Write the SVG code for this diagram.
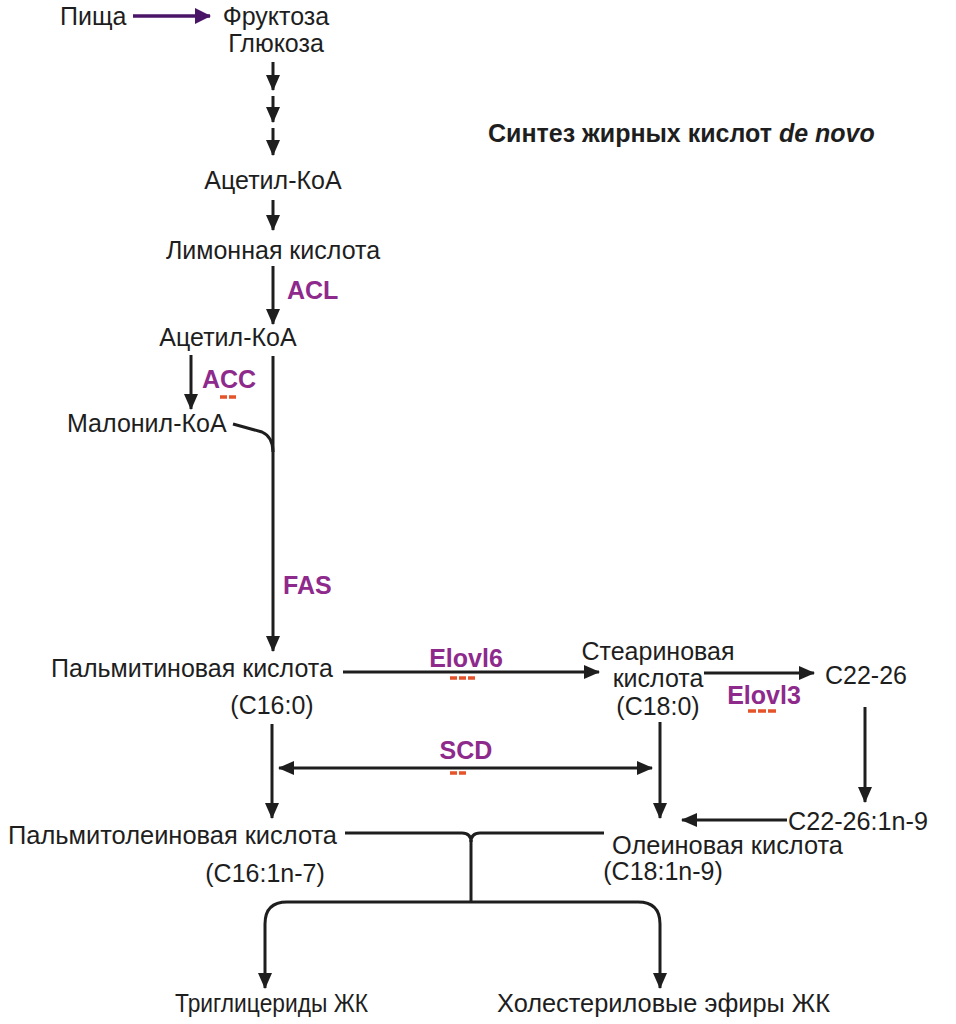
<svg xmlns="http://www.w3.org/2000/svg" width="956" height="1024" viewBox="0 0 956 1024">
<style>
text{font-family:"Liberation Sans",Arial,sans-serif;font-size:25px;fill:#1e1e1e}
.c{text-anchor:middle}
.enz{font-weight:bold;fill:#8e2a8c;font-size:25px}
.title{font-weight:bold;font-size:25px}
.ln{fill:none;stroke:#1e1e1e;stroke-width:3}
.dash{stroke:#e5532b;stroke-width:3.5;fill:none}
</style>
<defs>
<marker id="ah" viewBox="0 0 16 14" refX="15" refY="7" markerWidth="16" markerHeight="14" markerUnits="userSpaceOnUse" orient="auto-start-reverse">
<path d="M0,0 L16,7 L0,14 Z" fill="#1e1e1e"/>
</marker>
<marker id="ahp" viewBox="0 0 16 16" refX="15" refY="8" markerWidth="16" markerHeight="16" markerUnits="userSpaceOnUse" orient="auto">
<path d="M0,0 L16,8 L0,16 Z" fill="#4a1467"/>
</marker>
</defs>
<rect width="956" height="1024" fill="#fff"/>

<g id="connectors">
<line x1="133" y1="16" x2="210" y2="16" stroke="#4a1467" stroke-width="3.5" marker-end="url(#ahp)"/>
<line class="ln" x1="273" y1="62" x2="273" y2="90" marker-end="url(#ah)"/>
<line class="ln" x1="273" y1="96" x2="273" y2="122" marker-end="url(#ah)"/>
<line class="ln" x1="273" y1="128" x2="273" y2="155" marker-end="url(#ah)"/>
<line class="ln" x1="273" y1="200" x2="273" y2="230" marker-end="url(#ah)"/>
<line class="ln" x1="273" y1="266" x2="273" y2="324" marker-end="url(#ah)"/>
<line class="ln" x1="191" y1="355" x2="191" y2="409" marker-end="url(#ah)"/>
<line class="ln" x1="273" y1="356" x2="273" y2="651" marker-end="url(#ah)"/>
<path class="ln" d="M233,424 L262,432 Q273,437 273,452"/>
<line class="ln" x1="343" y1="672" x2="599" y2="672" marker-end="url(#ah)"/>
<line class="ln" x1="704" y1="673" x2="814" y2="673" marker-end="url(#ah)"/>
<line class="ln" x1="865" y1="707" x2="865" y2="802" marker-end="url(#ah)"/>
<line class="ln" x1="787" y1="820" x2="682" y2="820" marker-end="url(#ah)"/>
<line class="ln" x1="272" y1="724" x2="272" y2="818" marker-end="url(#ah)"/>
<line class="ln" x1="660" y1="722" x2="660" y2="818" marker-end="url(#ah)"/>
<line class="ln" x1="279" y1="768" x2="652" y2="768" marker-start="url(#ah)" marker-end="url(#ah)"/>
<path class="ln" d="M345,833 L462,833 Q471,833 471,842 Q471,833 480,833 L604,833"/>
<line class="ln" x1="471" y1="840" x2="471" y2="902"/>
<path class="ln" d="M265,988 L265,924 Q265,902 287,902 L638,902 Q660,902 660,924 L660,988" marker-start="url(#ah)" marker-end="url(#ah)"/>
</g>

<g id="n-food"><text x="60" y="25">Пища</text></g>
<g id="n-sugar"><text class="c" x="276" y="25">Фруктоза</text><text class="c" x="276" y="52">Глюкоза</text></g>
<g id="n-title"><text class="title" x="488" y="142">Синтез жирных кислот <tspan font-style="italic">de novo</tspan></text></g>
<g id="n-acetyl1"><text class="c" x="273" y="189">Ацетил-КоА</text></g>
<g id="n-citrate"><text class="c" x="273" y="259">Лимонная кислота</text></g>
<g id="e-acl"><text class="enz" x="287" y="299">ACL</text></g>
<g id="n-acetyl2"><text class="c" x="228" y="346">Ацетил-КоА</text></g>
<g id="e-acc"><text class="enz" x="202" y="388">ACC</text><line class="dash" x1="220" y1="397" x2="227" y2="397"/><line class="dash" x1="229" y1="397" x2="236" y2="397"/></g>
<g id="n-malonyl"><text x="67" y="432">Малонил-КоА</text></g>
<g id="e-fas"><text class="enz" x="283" y="594">FAS</text></g>
<g id="n-palm"><text class="c" x="192" y="677">Пальмитиновая кислота</text><text class="c" x="272" y="714">(C16:0)</text></g>
<g id="e-elovl6"><text class="enz c" x="466" y="667">Elovl6</text><line class="dash" x1="450" y1="678" x2="457" y2="678"/><line class="dash" x1="459" y1="678" x2="466" y2="678"/><line class="dash" x1="468" y1="678" x2="475" y2="678"/></g>
<g id="n-stear"><text class="c" x="658" y="660">Стеариновая</text><text class="c" x="658" y="687">кислота</text><text class="c" x="658" y="715">(C18:0)</text></g>
<g id="n-c2226"><text x="825" y="684">C22-26</text></g>
<g id="e-elovl3"><text class="enz c" x="764" y="704">Elovl3</text><line class="dash" x1="748" y1="711" x2="756" y2="711"/><line class="dash" x1="758" y1="711" x2="766" y2="711"/><line class="dash" x1="768" y1="711" x2="776" y2="711"/></g>
<g id="e-scd"><text class="enz c" x="466" y="759">SCD</text><line class="dash" x1="450" y1="773" x2="457" y2="773"/><line class="dash" x1="459" y1="773" x2="466" y2="773"/></g>
<g id="n-c2226n9"><text x="788" y="830" textLength="140" lengthAdjust="spacingAndGlyphs">C22-26:1n-9</text></g>
<g id="n-palmitoleic"><text x="8" y="844" textLength="329" lengthAdjust="spacingAndGlyphs">Пальмитолеиновая кислота</text><text class="c" x="265" y="882">(C16:1n-7)</text></g>
<g id="n-oleic"><text x="612" y="854" textLength="231" lengthAdjust="spacingAndGlyphs">Олеиновая кислота</text><text class="c" x="663" y="880">(C18:1n-9)</text></g>
<g id="n-tg"><text x="175" y="1012" textLength="193" lengthAdjust="spacingAndGlyphs">Триглицериды ЖК</text></g>
<g id="n-ce"><text x="497" y="1012" textLength="333" lengthAdjust="spacingAndGlyphs">Холестериловые эфиры ЖК</text></g>
</svg>
